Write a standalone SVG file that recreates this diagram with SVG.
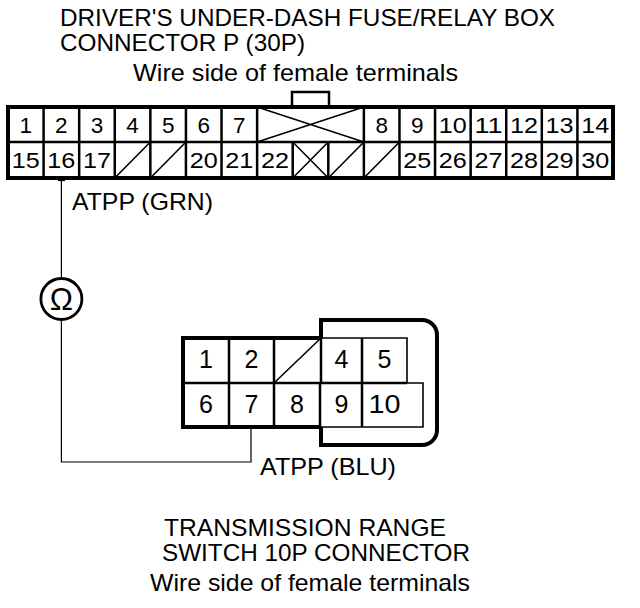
<svg xmlns="http://www.w3.org/2000/svg" width="640" height="608" viewBox="0 0 640 608">
<style>
.t{font-family:"Liberation Sans",Arial,sans-serif;fill:#000}
.title{font-size:24px}
.pin{font-size:22.5px;text-anchor:middle}
.pinL{font-size:25px;text-anchor:middle}
.thick{fill:none;stroke:#000;stroke-width:4}
.mid{fill:none;stroke:#000;stroke-width:2.5}
.thin{fill:none;stroke:#000;stroke-width:1.6}
.wire{fill:none;stroke:#000;stroke-width:1.2}
</style>
<rect width="640" height="608" fill="#fff"/>

<g id="title-top">
<text class="t title" x="60" y="26" textLength="495" lengthAdjust="spacingAndGlyphs">DRIVER'S UNDER-DASH FUSE/RELAY BOX</text>
<text class="t title" x="60" y="51" textLength="245" lengthAdjust="spacingAndGlyphs">CONNECTOR P (30P)</text>
<text class="t title" x="133" y="81" textLength="325" lengthAdjust="spacingAndGlyphs">Wire side of female terminals</text>
</g>

<g id="connector-30p">
<rect x="292" y="92" width="37" height="15" class="mid" stroke-width="3"/>
<rect x="8" y="107" width="605" height="71" class="thick" fill="#fff"/>
<line x1="8" y1="142" x2="613" y2="142" class="mid"/>
<path class="mid" d="M43.59,107V142M79.18,107V142M114.76,107V142M150.35,107V142M185.94,107V142M221.53,107V142M257.12,107V142M363.88,107V142M399.47,107V142M435.06,107V142M470.65,107V142M506.24,107V142M541.82,107V142M577.41,107V142"/>
<path class="mid" d="M43.59,142V178M79.18,142V178M114.76,142V178M150.35,142V178M185.94,142V178M221.53,142V178M257.12,142V178M292.71,142V178M328.29,142V178M363.88,142V178M399.47,142V178M435.06,142V178M470.65,142V178M506.24,142V178M541.82,142V178M577.41,142V178"/>
<path class="thin" d="M257.12,107L363.88,142M257.12,142L363.88,107M292.71,142L328.29,178M292.71,178L328.29,142M114.76,178L150.35,142M150.35,178L185.94,142M328.29,178L363.88,142M363.88,178L399.47,142"/>
<g class="t pin">
<text x="25.79" y="132.5">1</text>
<text x="61.38" y="132.5">2</text>
<text x="96.97" y="132.5">3</text>
<text x="132.56" y="132.5">4</text>
<text x="168.15" y="132.5">5</text>
<text x="203.74" y="132.5">6</text>
<text x="239.32" y="132.5">7</text>
<text x="381.68" y="132.5">8</text>
<text x="417.26" y="132.5">9</text>
<text x="452.85" y="132.5" textLength="28" lengthAdjust="spacingAndGlyphs">10</text>
<text x="488.44" y="132.5" textLength="28" lengthAdjust="spacingAndGlyphs">11</text>
<text x="524.03" y="132.5" textLength="28" lengthAdjust="spacingAndGlyphs">12</text>
<text x="559.62" y="132.5" textLength="28" lengthAdjust="spacingAndGlyphs">13</text>
<text x="595.21" y="132.5" textLength="28" lengthAdjust="spacingAndGlyphs">14</text>
<text x="25.79" y="168" textLength="28" lengthAdjust="spacingAndGlyphs">15</text>
<text x="61.38" y="168" textLength="28" lengthAdjust="spacingAndGlyphs">16</text>
<text x="96.97" y="168" textLength="28" lengthAdjust="spacingAndGlyphs">17</text>
<text x="203.74" y="168" textLength="28" lengthAdjust="spacingAndGlyphs">20</text>
<text x="239.32" y="168" textLength="28" lengthAdjust="spacingAndGlyphs">21</text>
<text x="274.91" y="168" textLength="28" lengthAdjust="spacingAndGlyphs">22</text>
<text x="417.26" y="168" textLength="28" lengthAdjust="spacingAndGlyphs">25</text>
<text x="452.85" y="168" textLength="28" lengthAdjust="spacingAndGlyphs">26</text>
<text x="488.44" y="168" textLength="28" lengthAdjust="spacingAndGlyphs">27</text>
<text x="524.03" y="168" textLength="28" lengthAdjust="spacingAndGlyphs">28</text>
<text x="559.62" y="168" textLength="28" lengthAdjust="spacingAndGlyphs">29</text>
<text x="595.21" y="168" textLength="28" lengthAdjust="spacingAndGlyphs">30</text>
</g>
</g>

<g id="connectors">
<path class="wire" d="M61.4,178V278M61.4,320V462H251V427"/>
<path class="wire" d="M58,180.5H65"/>
</g>

<g id="ohmmeter">
<circle cx="61.4" cy="299" r="20.5" fill="#fff" stroke="#000" stroke-width="2.8"/>
<text class="t" x="61.4" y="310" font-size="31" text-anchor="middle">Ω</text>
</g>

<g id="label-grn">
<text class="t title" x="72" y="210" textLength="141" lengthAdjust="spacingAndGlyphs">ATPP (GRN)</text>
</g>

<g id="connector-10p">
<path class="thick" stroke-width="3.5" d="M321,338V320H422A15,15 0 0 1 437,335V430A15,15 0 0 1 422,445H321V427"/>
<path class="thick" d="M321,338H183V427H321"/>
<path class="thin" d="M321,338H407V383H423V427H321"/>
<line x1="321" y1="338" x2="321" y2="383" class="mid" stroke-width="3.5"/>
<line x1="183" y1="383" x2="407" y2="383" class="mid" stroke-width="3"/>
<path class="mid" d="M229,338V427M362,338V427M320,383V427"/>
<line x1="274" y1="338" x2="274" y2="427" class="mid" stroke-width="3.5"/>
<line x1="274" y1="383" x2="321" y2="338" class="thin"/>
<g class="t pinL">
<text x="206" y="368">1</text>
<text x="251.5" y="368">2</text>
<text x="341.5" y="368">4</text>
<text x="384.5" y="368">5</text>
<text x="206" y="413">6</text>
<text x="251.5" y="413">7</text>
<text x="297" y="413">8</text>
<text x="341.5" y="413">9</text>
<text x="384.5" y="413" textLength="32" lengthAdjust="spacingAndGlyphs">10</text>
</g>
</g>

<g id="label-blu">
<text class="t title" x="260" y="475" textLength="136" lengthAdjust="spacingAndGlyphs">ATPP (BLU)</text>
</g>

<g id="title-bottom">
<text class="t title" x="164" y="536" textLength="282" lengthAdjust="spacingAndGlyphs">TRANSMISSION RANGE</text>
<text class="t title" x="162" y="561" textLength="308" lengthAdjust="spacingAndGlyphs">SWITCH 10P CONNECTOR</text>
<text class="t title" x="150" y="591" textLength="320" lengthAdjust="spacingAndGlyphs">Wire side of female terminals</text>
</g>
</svg>
